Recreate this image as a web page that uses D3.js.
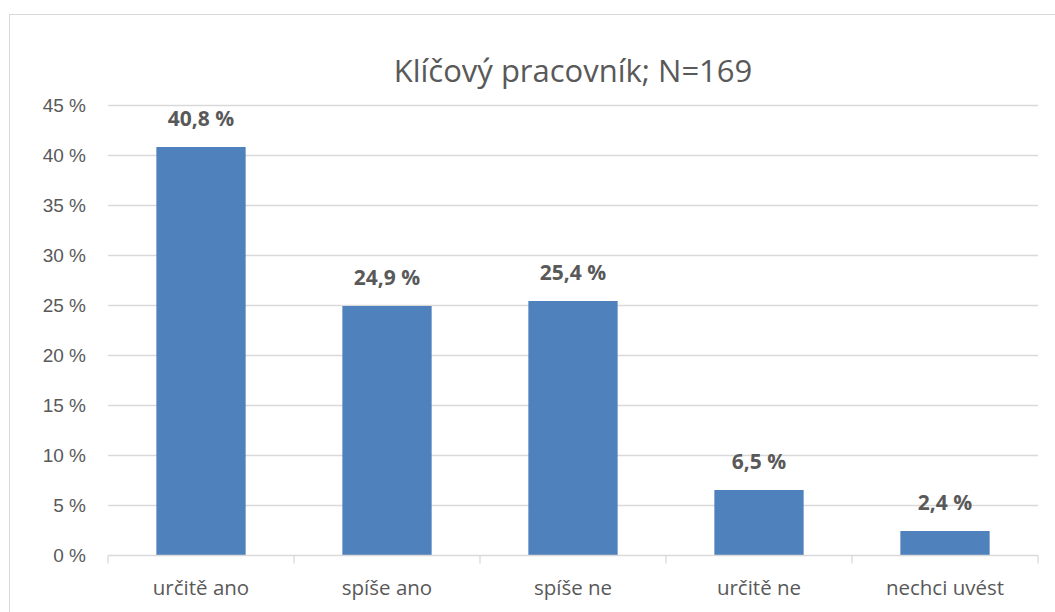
<!DOCTYPE html>
<html>
<head>
<meta charset="utf-8">
<script src="https://cdn.jsdelivr.net/npm/d3@7"></script>
<style>
  body { margin: 0; background: #fff; }
  svg { display: block; font-family: "Open Sans", Lato, sans-serif; }
</style>
</head>
<body>
<svg id="chart" width="1055" height="612"></svg>
<script>
let categories = ['určitě ano', 'spíše ano', 'spíše ne', 'určitě ne', 'nechci uvést'];
let values = [40.8, 24.9, 25.4, 6.5, 2.4];
let yTicks = [0, 5, 10, 15, 20, 25, 30, 35, 40, 45];
let title = 'Klíčový pracovník; N=169';

let svg = d3.select('#chart');
let margin = { left: 108, right: 17, top: 105, bottom: 57 };
let width = 1055, height = 612;
let textColor = '#595959';
let gridColor = '#d9d9d9';

// outer frame of the chart
svg.append('rect')
    .attr('x', 9.5).attr('y', 14.5)
    .attr('width', width).attr('height', height)
    .attr('fill', 'none')
    .attr('stroke', gridColor);

let x = d3.scaleBand()
    .domain(categories)
    .range([margin.left, width - margin.right])
    .paddingInner(0.52)
    .paddingOuter(0.26);

let y = d3.scaleLinear()
    .domain([0, 45])
    .range([height - margin.bottom, margin.top]);

// gridlines
svg.append('g')
    .selectAll('line')
    .data(yTicks.slice(1))
    .join('line')
    .attr('x1', margin.left)
    .attr('x2', width - margin.right)
    .attr('y1', (d) => Math.round(y(d)) + 0.5)
    .attr('y2', (d) => Math.round(y(d)) + 0.5)
    .attr('stroke', gridColor)
    .attr('stroke-width', 1.3);

// y labels
let yAxis = svg.append('g')
    .attr('transform', 'translate(' + margin.left + ',0)')
    .call(d3.axisLeft(y).tickValues(yTicks).tickSize(0).tickPadding(22).tickFormat((d) => d + ' %'));
yAxis.select('.domain').remove();
yAxis.selectAll('text')
    .attr('fill', textColor)
    .attr('dy', '0.35em')
    .style('font-size', '19px');

// bars
svg.append('g')
    .selectAll('rect')
    .data(values)
    .join('rect')
    .attr('x', (d, i) => x(categories[i]))
    .attr('y', (d) => y(d))
    .attr('width', x.bandwidth())
    .attr('height', (d) => y(0) - y(d))
    .attr('fill', '#4f81bd');

// value labels
svg.append('g')
    .selectAll('text')
    .data(values)
    .join('text')
    .attr('x', (d, i) => x(categories[i]) + x.bandwidth() / 2)
    .attr('y', (d) => y(d) - 21)
    .attr('text-anchor', 'middle')
    .attr('fill', textColor)
    .style('font-size', '21px')
    .style('font-weight', 'bold')
    .text((d) => d3.format('.1f')(d).replace('.', ',') + ' %');

// x axis with category separators
let xAxis = svg.append('g')
    .attr('transform', 'translate(0,' + (Math.round(y(0)) + 0.5) + ')');
xAxis.append('line')
    .attr('x1', margin.left)
    .attr('x2', width - margin.right)
    .attr('stroke', gridColor)
    .attr('stroke-width', 1.3);
let step = x.step();
xAxis.selectAll('.sep')
    .data(d3.range(categories.length + 1))
    .join('line')
    .attr('class', 'sep')
    .attr('x1', (d) => margin.left + d * step)
    .attr('x2', (d) => margin.left + d * step)
    .attr('y1', 0)
    .attr('y2', 8)
    .attr('stroke', gridColor)
    .attr('stroke-width', 1.3);
xAxis.selectAll('.cat')
    .data(categories)
    .join('text')
    .attr('class', 'cat')
    .attr('x', (d) => x(d) + x.bandwidth() / 2)
    .attr('y', 39)
    .attr('text-anchor', 'middle')
    .attr('fill', textColor)
    .style('font-size', '20.5px')
    .text((d) => d);

// title
svg.append('text')
    .attr('x', (margin.left + width - margin.right) / 2)
    .attr('y', 82)
    .attr('text-anchor', 'middle')
    .attr('fill', textColor)
    .style('font-size', '31px')
    .text(title);
</script>
</body>
</html>
